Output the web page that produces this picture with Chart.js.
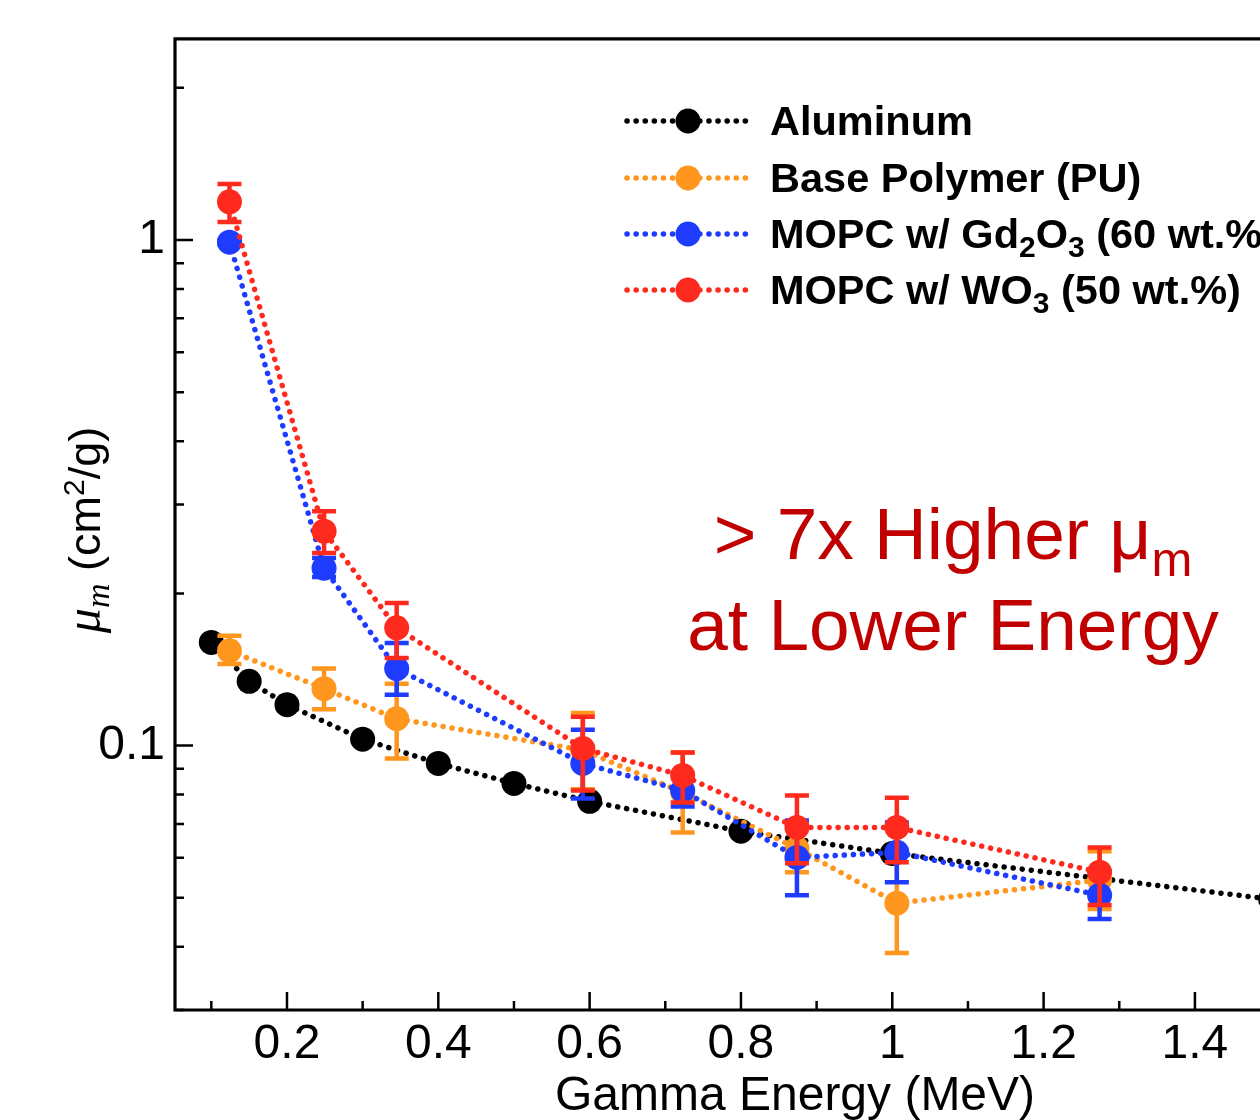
<!DOCTYPE html>
<html>
<head>
<meta charset="utf-8">
<script src="https://cdn.jsdelivr.net/npm/chart.js@4.4.1/dist/chart.umd.min.js"></script>
<style>
  html, body { margin: 0; padding: 0; background: #fff; overflow: hidden; }
  #wrap { width: 1260px; height: 1120px; }
</style>
</head>
<body>
<div id="wrap"><canvas id="chart" width="1260" height="1120"></canvas></div>
<script>
/* Mass attenuation coefficient vs gamma energy */

var FONT = '"Liberation Sans", Arial, Helvetica, sans-serif';

// Aluminum reference curve
var ENERGY_AL = [0.1, 0.15, 0.2, 0.3, 0.4, 0.5, 0.6, 0.8, 1.0, 1.5];
var MU_AL = [0.160, 0.134, 0.1205, 0.103, 0.0922, 0.0842, 0.0776, 0.0677, 0.0612, 0.0497];

// measured samples share the same source energies
var ENERGY = [0.124, 0.249, 0.345, 0.591, 0.723, 0.874, 1.006, 1.274];

var MU_PU = [0.154, 0.1296, 0.113, 0.098, 0.0808, 0.0626, 0.0488, 0.0542];
var MU_PU_LO = [0.145, 0.118, 0.0943, 0.082, 0.0673, 0.0562, 0.0389, 0.0475];
var MU_PU_HI = [0.165, 0.142, 0.1325, 0.116, 0.0969, 0.0699, 0.0612, 0.0618];

var MU_GD = [0.99, 0.2244, 0.142, 0.0922, 0.0815, 0.0601, 0.0615, 0.0506];
var MU_GD_LO = [0.98, 0.2155, 0.126, 0.0786, 0.0758, 0.0506, 0.0537, 0.0454];
var MU_GD_HI = [1.0, 0.235, 0.1596, 0.1075, 0.0877, 0.0711, 0.0705, 0.0564];

var MU_WO = [1.19, 0.2655, 0.171, 0.0987, 0.0873, 0.0689, 0.0689, 0.0562];
var MU_WO_LO = [1.085, 0.2403, 0.149, 0.0815, 0.0772, 0.0585, 0.0588, 0.0484];
var MU_WO_HI = [1.29, 0.2907, 0.1914, 0.114, 0.0969, 0.0797, 0.0789, 0.0629];

var X_TICKS = [0.2, 0.4, 0.6, 0.8, 1.0, 1.2, 1.4];
var X_MINOR = [0.1, 0.3, 0.5, 0.7, 0.9, 1.1, 1.3];
var Y_TICKS = [0.1, 1];
var Y_MINOR = [0.03, 0.04, 0.05, 0.06, 0.07, 0.08, 0.09, 0.2, 0.3, 0.4, 0.5, 0.6, 0.7, 0.8, 0.9, 2];

var C_BLACK = '#000000';
var C_ORANGE = '#ff961e';
var C_BLUE = '#1e3cff';
var C_RED = '#ff2a1e';

var DOTS = [0.1, 9];

function pts(xs, ys) {
  return xs.map(function (x, i) { return { x: x, y: ys[i] }; });
}

function series(label, xs, ys, color, order, lo, hi) {
  return {
    label: label,
    data: pts(xs, ys),
    borderColor: color,
    backgroundColor: color,
    pointBackgroundColor: color,
    pointBorderWidth: 0,
    pointRadius: 12.5,
    borderWidth: 5.5,
    borderDash: DOTS,
    borderCapStyle: 'round',
    tension: 0,
    fill: false,
    order: order,
    errLo: lo,
    errHi: hi
  };
}

// error bars go under each dataset's own line and markers
var errorBars = {
  id: 'errorBars',
  beforeDatasetDraw: function (chart, args) {
    var ds = chart.data.datasets[args.index];
    if (!ds.errLo) return;
    var xs = chart.scales.x, ys = chart.scales.y, ctx = chart.ctx;
    ctx.save();
    ctx.strokeStyle = ds.borderColor;
    ctx.lineWidth = 4.5;
    ds.data.forEach(function (p, i) {
      var px = xs.getPixelForValue(p.x);
      var y1 = ys.getPixelForValue(ds.errHi[i]);
      var y2 = ys.getPixelForValue(ds.errLo[i]);
      ctx.beginPath();
      ctx.moveTo(px, y1); ctx.lineTo(px, y2);
      ctx.moveTo(px - 12, y1); ctx.lineTo(px + 12, y1);
      ctx.moveTo(px - 12, y2); ctx.lineTo(px + 12, y2);
      ctx.stroke();
    });
    ctx.restore();
  }
};

// draws text pieces with sub/superscripts, returns end x
function runs(ctx, parts, x, y, measureOnly) {
  parts.forEach(function (p) {
    ctx.font = p.font;
    if (!measureOnly) ctx.fillText(p.t, x, y + (p.dy || 0));
    x += ctx.measureText(p.t).width;
  });
  return x;
}

var decor = {
  id: 'decor',
  afterDraw: function (chart) {
    var ctx = chart.ctx, a = chart.chartArea;
    var xs = chart.scales.x, ys = chart.scales.y;
    ctx.save();

    // frame: left, top, bottom (right side is cut off)
    ctx.strokeStyle = '#000';
    ctx.lineWidth = 3.2;
    ctx.beginPath();
    ctx.moveTo(chart.width + 2, a.top);
    ctx.lineTo(a.left, a.top);
    ctx.lineTo(a.left, a.bottom);
    ctx.lineTo(chart.width + 2, a.bottom);
    ctx.stroke();

    // inward ticks
    ctx.lineWidth = 2.5;
    ctx.beginPath();
    Y_TICKS.forEach(function (v) {
      var y = ys.getPixelForValue(v);
      ctx.moveTo(a.left, y); ctx.lineTo(a.left + 18, y);
    });
    Y_MINOR.forEach(function (v) {
      var y = ys.getPixelForValue(v);
      ctx.moveTo(a.left, y); ctx.lineTo(a.left + 9, y);
    });
    X_TICKS.forEach(function (v) {
      var x = xs.getPixelForValue(v);
      ctx.moveTo(x, a.bottom); ctx.lineTo(x, a.bottom - 18);
    });
    X_MINOR.forEach(function (v) {
      var x = xs.getPixelForValue(v);
      ctx.moveTo(x, a.bottom); ctx.lineTo(x, a.bottom - 9);
    });
    ctx.stroke();

    // legend
    var B = 'bold 41.5px ' + FONT, S = 'bold 30px ' + FONT;
    var legendRows = [
      [{ t: 'Aluminum', font: B }],
      [{ t: 'Base Polymer (PU)', font: B }],
      [{ t: 'MOPC w/ Gd', font: B }, { t: '2', font: S, dy: 9 }, { t: 'O', font: B }, { t: '3', font: S, dy: 9 }, { t: ' (60 wt.%)', font: B }],
      [{ t: 'MOPC w/ WO', font: B }, { t: '3', font: S, dy: 9 }, { t: ' (50 wt.%)', font: B }]
    ];
    var rowY = [121, 178, 234, 290];
    chart.data.datasets.forEach(function (ds, i) {
      var y = rowY[i];
      ctx.strokeStyle = ds.borderColor;
      ctx.lineWidth = 5.5;
      ctx.lineCap = 'round';
      ctx.setLineDash(DOTS);
      ctx.beginPath();
      ctx.moveTo(627, y); ctx.lineTo(750, y);
      ctx.stroke();
      ctx.setLineDash([]);
      ctx.fillStyle = ds.borderColor;
      ctx.beginPath();
      ctx.arc(688, y, 12.5, 0, Math.PI * 2);
      ctx.fill();
      ctx.fillStyle = '#000';
      ctx.textBaseline = 'alphabetic';
      ctx.textAlign = 'left';
      runs(ctx, legendRows[i], 770, y + 14);
    });

    // annotation
    ctx.fillStyle = '#c00000';
    var L = '73px ' + FONT, Ls = '49px ' + FONT;
    var line1 = [{ t: '> 7x Higher \u03bc', font: L }, { t: 'm', font: Ls, dy: 17 }];
    var w1 = runs(ctx, line1, 0, 0, true);
    runs(ctx, line1, 953 - w1 / 2, 559);
    ctx.font = L;
    ctx.textAlign = 'center';
    ctx.fillText('at Lower Energy', 953, 650);

    // x title
    ctx.fillStyle = '#000';
    ctx.font = '48px ' + FONT;
    ctx.fillText('Gamma Energy (MeV)', 795, 1110);

    // y title, rotated
    ctx.textAlign = 'left';
    var yt = [
      { t: '\u03bc', font: 'italic 50px "Liberation Serif", serif' },
      { t: 'm', font: 'italic 34px "Liberation Serif", serif', dy: 9 },
      { t: ' (cm', font: '45px ' + FONT },
      { t: '2', font: '30px ' + FONT, dy: -16 },
      { t: '/g)', font: '45px ' + FONT }
    ];
    var wy = runs(ctx, yt, 0, 0, true);
    ctx.translate(84, 530);
    ctx.rotate(-Math.PI / 2);
    runs(ctx, yt, -wy / 2, 16);

    ctx.restore();
  }
};

new Chart(document.getElementById('chart'), {
  type: 'line',
  data: {
    datasets: [
      series('Aluminum', ENERGY_AL, MU_AL, C_BLACK, 4),
      series('Base Polymer (PU)', ENERGY, MU_PU, C_ORANGE, 3, MU_PU_LO, MU_PU_HI),
      series('MOPC w/ Gd2O3 (60 wt.%)', ENERGY, MU_GD, C_BLUE, 2, MU_GD_LO, MU_GD_HI),
      series('MOPC w/ WO3 (50 wt.%)', ENERGY, MU_WO, C_RED, 1, MU_WO_LO, MU_WO_HI)
    ]
  },
  options: {
    responsive: false,
    animation: false,
    devicePixelRatio: 1,
    layout: { autoPadding: false, padding: { top: 37, left: 0, right: 0, bottom: 0 } },
    plugins: {
      legend: { display: false },
      tooltip: { enabled: false }
    },
    scales: {
      x: {
        type: 'linear',
        min: 0.052,
        max: 1.486,
        grid: { display: false, drawTicks: false },
        border: { display: false },
        afterBuildTicks: function (s) { s.ticks = X_TICKS.map(function (v) { return { value: v }; }); },
        afterFit: function (s) { s.height = 110; },
        ticks: {
          autoSkip: false,
          maxRotation: 0,
          padding: 6,
          color: '#000',
          font: { size: 48, family: FONT },
          callback: function (v) { return String(+Number(v).toFixed(1)); }
        }
      },
      y: {
        type: 'logarithmic',
        min: 0.03,
        max: 2.5,
        grid: { display: false, drawTicks: false },
        border: { display: false },
        afterBuildTicks: function (s) { s.ticks = Y_TICKS.map(function (v) { return { value: v }; }); },
        afterFit: function (s) { s.width = 175; },
        ticks: {
          padding: 10,
          color: '#000',
          font: { size: 48, family: FONT },
          callback: function (v) { return String(v); }
        }
      }
    }
  },
  plugins: [errorBars, decor]
});
</script>
</body>
</html>
